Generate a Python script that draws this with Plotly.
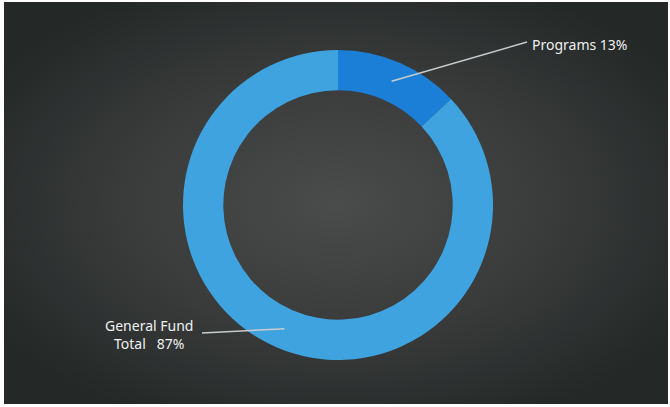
import base64
import math
import plotly.graph_objects as go

# Funding split
labels = ["Programs", "General Fund"]
shares = [13, 87]
label_text = ["Programs 13%", "General Fund<br>Total   87%"]
colors = ["#1b7fd8", "#3fa3e0"]

W, H = 670, 407
cx, cy, r_out = 338, 205, 155
hole = 0.74

# Dark backdrop with a soft radial vignette (SVG data URI)
svg = f"""<svg xmlns='http://www.w3.org/2000/svg' width='{W}' height='{H}'>
<defs><radialGradient id='g' cx='50%' cy='50%' r='60%'>
<stop offset='0%' stop-color='#4a4c4c'/>
<stop offset='55%' stop-color='#393b3b'/>
<stop offset='100%' stop-color='#242827'/>
</radialGradient></defs>
<rect width='100%' height='100%' fill='url(#g)'/></svg>"""
bg_uri = "data:image/svg+xml;base64," + base64.b64encode(svg.encode()).decode()

fig = go.Figure()
fig.add_trace(go.Pie(
    labels=labels,
    values=shares,
    hole=hole,
    sort=False,
    direction="clockwise",
    rotation=0,
    marker=dict(colors=colors, line=dict(width=0)),
    textinfo="none",
    hoverinfo="label+percent",
    showlegend=False,
    domain=dict(x=[(cx - r_out) / W, (cx + r_out) / W],
                y=[1 - (cy + r_out) / H, 1 - (cy - r_out) / H]),
))

# Leader lines start at each slice's mid-angle, halfway through the ring
r_mid = r_out * (1 + hole) / 2
total = sum(shares)
cum = 0
anchors = []
for s in shares:
    ang = math.radians((cum + s / 2) / total * 360)
    anchors.append((cx + r_mid * math.sin(ang), cy - r_mid * math.cos(ang)))
    cum += s

label_pos = [(527, 42), (202, 333)]
text_xy = [(530, 44, "left"), (149, 334, "center")]

shapes = []
annotations = []
for (ax, ay), (lx, ly), (tx, ty, al), txt in zip(anchors, label_pos, text_xy, label_text):
    shapes.append(dict(type="line", xref="x", yref="y", x0=ax, y0=ay, x1=lx, y1=ly,
                       line=dict(color="#c8cccc", width=1.5), layer="above"))
    annotations.append(dict(x=tx, y=ty, xref="x", yref="y", text=txt, showarrow=False,
                            xanchor=al, yanchor="middle", align="center",
                            font=dict(family="Noto Sans", size=14, color="#eef0f0")))

fig.update_layout(
    width=W, height=H,
    margin=dict(l=0, r=0, t=0, b=0),
    paper_bgcolor="#ffffff",
    plot_bgcolor="rgba(0,0,0,0)",
    xaxis=dict(range=[0, W], visible=False, fixedrange=True),
    yaxis=dict(range=[H, 0], visible=False, fixedrange=True),
    images=[dict(source=bg_uri, xref="paper", yref="paper",
                 x=4 / W, y=1 - 2 / H, sizex=664 / W, sizey=402 / H,
                 xanchor="left", yanchor="top", sizing="stretch", layer="below")],
    shapes=shapes,
    annotations=annotations,
)

fig.write_html("out.html")
